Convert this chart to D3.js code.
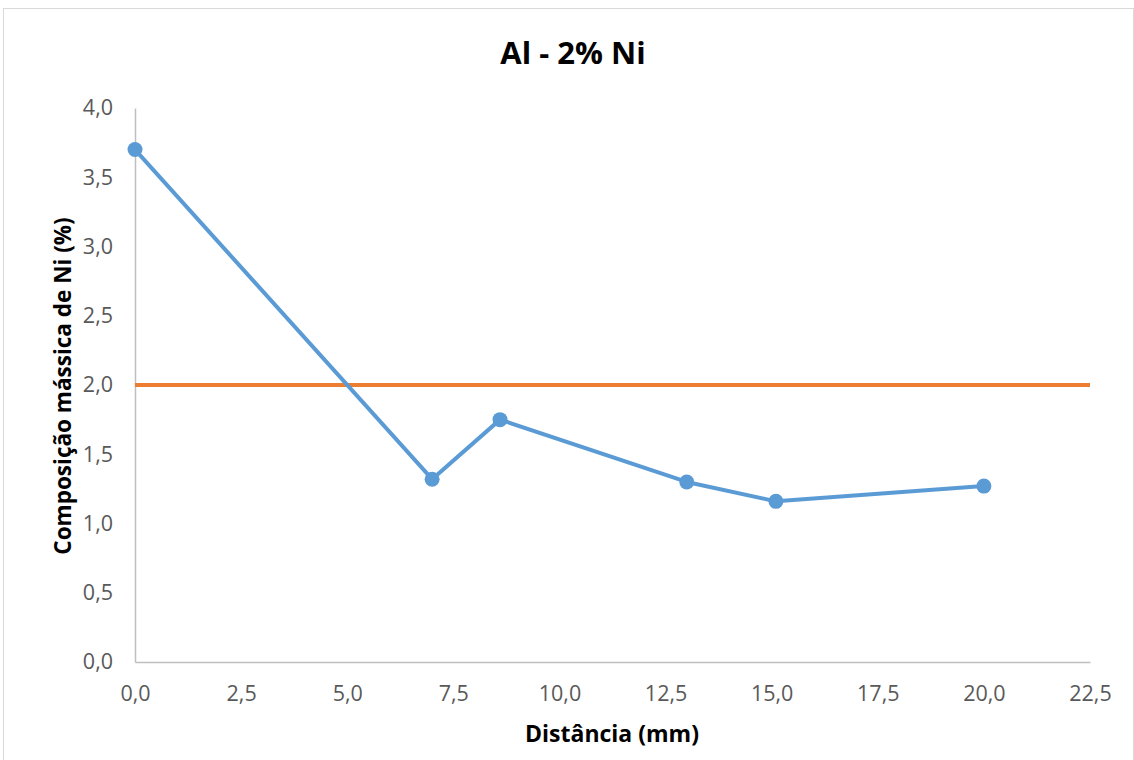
<!DOCTYPE html>
<html>
<head>
<meta charset="utf-8">
<script src="https://cdn.jsdelivr.net/npm/d3@7"></script>
<style>
  body { margin: 0; background: #fff; }
  svg { display: block; font-family: "Open Sans", "Liberation Sans", sans-serif; }
</style>
</head>
<body>
<svg id="chart" width="1134" height="760"></svg>
<script>
// Ni mass composition along the casting
const distance = [0.0, 7.0, 8.6, 13.0, 15.1, 20.0];
const niContent = [3.70, 1.32, 1.75, 1.30, 1.16, 1.27];
const nominal = [2.0, 2.0];
const nominalRange = [0.0, 22.5];
const xTicks = [0, 2.5, 5, 7.5, 10, 12.5, 15, 17.5, 20, 22.5];
const yTicks = [0, 0.5, 1, 1.5, 2, 2.5, 3, 3.5, 4];

const svg = d3.select("#chart");
const W = 1134, H = 760;
const m = { left: 135, right: 1090, top: 108, bottom: 662 };

svg.append("rect")
  .attr("x", 3.5).attr("y", 8.5)
  .attr("width", W - 4).attr("height", H - 4)
  .attr("fill", "#fff").attr("stroke", "#d9d9d9");

const x = d3.scaleLinear().domain([0, 22.5]).range([m.left, m.right]);
const y = d3.scaleLinear().domain([0, 4]).range([m.bottom, m.top]);
const fmt = d => d3.format(".1f")(d).replace(".", ",");

// axes
const xAxis = svg.append("g").attr("transform", `translate(0,${m.bottom})`)
  .call(d3.axisBottom(x).tickValues(xTicks).tickFormat(fmt).tickSize(0).tickPadding(24));
const yAxis = svg.append("g").attr("transform", `translate(${m.left},0)`)
  .call(d3.axisLeft(y).tickValues(yTicks).tickFormat(fmt).tickSize(0).tickPadding(22));
[xAxis, yAxis].forEach(g => {
  g.select(".domain").attr("stroke", "#bfbfbf").attr("stroke-width", 1.5);
  g.selectAll("text").attr("fill", "#595959").style("font-size", "21.5px")
    .style("font-family", "\"Open Sans\", \"Liberation Sans\", sans-serif");
});

// nominal composition line
svg.append("path")
  .datum(nominalRange.map((d, i) => [d, nominal[i]]))
  .attr("fill", "none").attr("stroke", "#ED7D31").attr("stroke-width", 4)
  .attr("d", d3.line().x(d => x(d[0])).y(d => y(d[1])));

// measured series
const pts = distance.map((d, i) => [d, niContent[i]]);
svg.append("path")
  .datum(pts)
  .attr("fill", "none").attr("stroke", "#5B9BD5").attr("stroke-width", 4)
  .attr("stroke-linejoin", "round")
  .attr("d", d3.line().x(d => x(d[0])).y(d => y(d[1])));
svg.selectAll("circle.pt").data(pts).enter().append("circle")
  .attr("class", "pt")
  .attr("cx", d => x(d[0])).attr("cy", d => y(d[1])).attr("r", 7.5)
  .attr("fill", "#5B9BD5");

// titles
svg.append("text").attr("x", 573).attr("y", 64).attr("text-anchor", "middle")
  .style("font-size", "31px").style("font-weight", "bold").attr("fill", "#000")
  .text("Al - 2% Ni");
svg.append("text").attr("x", 612).attr("y", 742).attr("text-anchor", "middle")
  .style("font-size", "23px").style("font-weight", "bold").attr("fill", "#000")
  .text("Distância (mm)");
svg.append("text").attr("transform", "translate(71,386) rotate(-90)")
  .attr("text-anchor", "middle")
  .style("font-size", "22.5px").style("font-weight", "bold").attr("fill", "#000")
  .text("Composição mássica de Ni (%)");
</script>
</body>
</html>
